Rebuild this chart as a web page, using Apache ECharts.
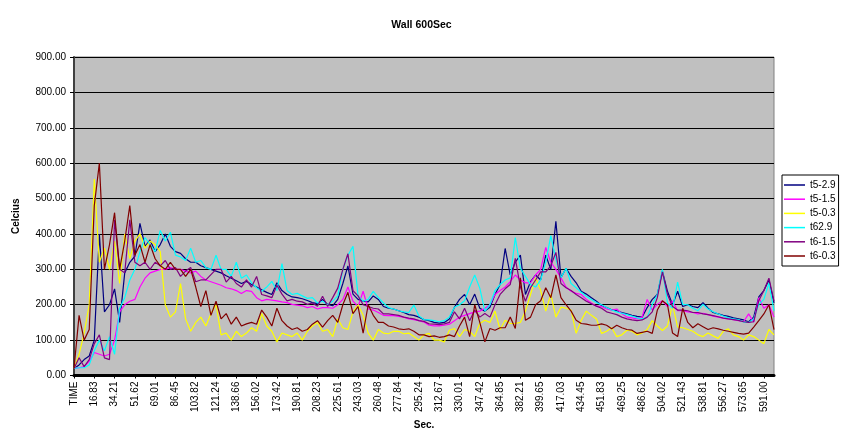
<!DOCTYPE html>
<html><head><meta charset="utf-8">
<script src="https://cdn.jsdelivr.net/npm/echarts@6/dist/echarts.min.js"></script>
<style>html,body{margin:0;padding:0;background:#fff}#c{width:843px;height:435px}</style>
</head><body><div id="c"></div>
<script>
const tickLabels = ['TIME','16.83','34.21','51.62','69.01','86.45','103.82','121.24','138.66','156.02','173.42','190.81','208.23','225.61','243.03','260.48','277.84','295.24','312.67','330.01','347.42','364.85','382.21','399.65','417.03','434.45','451.83','469.25','486.62','504.02','521.43','538.81','556.27','573.65','591.00'];

const seriesNames = ['t5-2.9','t5-1.5','t5-0.3','t62.9','t6-1.5','t6-0.3'];
const seriesColors = ['#000080','#FF00FF','#FFFF00','#00FFFF','#800080','#800000'];

const t5_29 = [20,30,45,55,100,400,180,200,245,150,
290,320,337,430,365,383,350,370,400,365,
350,345,330,320,320,310,305,300,295,290,
282,275,268,260,266,257,250,242,235,229,
262,240,229,222,220,217,212,206,203,215,
201,197,215,260,310,230,215,210,208,225,
215,195,190,188,183,178,172,170,165,158,
155,150,148,150,160,193,215,229,200,230,
190,182,193,229,257,359,284,320,340,229,
265,284,270,340,300,436,276,303,280,262,
238,230,220,210,198,192,186,183,178,174,
170,167,165,192,215,229,295,238,200,238,
195,200,195,192,206,190,178,174,170,167,
163,160,157,152,165,222,240,270,205];

const t5_15 = [20,22,25,40,65,60,55,60,100,180,
200,210,215,250,275,290,295,300,300,305,
300,300,295,290,295,280,270,265,260,255,
248,245,240,232,240,238,220,211,215,213,
211,208,206,201,199,197,192,195,188,192,
192,190,200,215,250,210,195,238,188,185,
178,170,169,169,167,165,160,158,155,151,
142,140,140,142,145,155,165,170,175,180,
182,190,200,229,240,250,265,284,270,262,
262,284,300,362,320,300,276,250,238,232,
229,215,205,196,195,188,185,188,175,165,
163,160,165,215,185,201,211,195,210,183,
183,180,178,174,176,172,168,165,162,160,
158,155,152,174,151,220,190,200,165];

const t5_03 = [20,60,120,200,555,320,360,300,380,260,
400,330,380,400,360,380,370,350,200,165,
180,260,160,125,150,165,140,175,200,115,
120,100,125,110,120,135,125,175,140,125,
95,120,115,110,120,100,125,140,150,125,
130,110,160,135,130,180,200,170,120,100,
130,120,118,125,125,118,120,110,100,115,
119,100,100,95,128,133,110,130,125,110,
147,156,150,182,130,156,147,147,150,182,
229,276,240,182,229,165,193,190,185,119,
156,182,170,160,119,125,135,110,115,128,
125,115,120,130,155,140,127,140,200,137,
135,130,125,115,110,120,112,105,125,132,
115,110,100,115,110,100,90,130,115];

const t6_29 = [20,22,22,30,70,100,70,110,60,190,
220,270,300,350,390,370,350,410,380,405,
340,335,325,360,320,325,305,300,340,300,
300,280,320,275,284,262,248,238,250,266,
240,316,240,229,232,225,218,220,205,210,
200,210,225,300,340,365,225,210,215,238,
220,205,192,188,183,180,178,199,168,158,
157,155,152,155,165,193,200,211,250,284,
247,182,200,240,257,270,276,390,303,280,
257,250,270,320,395,329,276,303,260,248,
235,224,215,206,200,192,185,180,176,172,
168,163,160,165,201,229,300,205,190,264,
201,200,190,183,201,188,180,174,168,163,
160,158,151,150,160,201,215,261,183];

const t6_15 = [20,50,25,45,90,115,50,45,440,300,
290,440,320,310,320,300,320,310,325,300,
305,280,295,305,265,270,270,285,300,300,
264,280,260,250,270,250,280,229,225,220,
255,230,211,215,210,208,201,205,196,224,
195,220,247,300,344,240,225,200,195,190,
188,174,174,172,170,165,162,160,155,153,
146,145,144,146,150,180,160,190,155,185,
165,175,165,200,229,245,257,331,250,210,
248,270,293,293,310,348,260,248,240,229,
220,210,203,196,190,180,176,172,165,160,
157,155,157,165,180,220,293,229,195,185,
185,183,178,178,174,172,169,166,162,160,
158,156,152,150,152,211,240,275,210];

const t6_03 = [20,170,100,130,480,600,300,370,460,300,
380,480,340,370,320,370,330,310,300,320,
300,300,280,300,250,195,240,170,210,160,
175,145,165,140,146,150,145,185,165,140,
190,155,140,130,135,125,130,145,155,137,
155,170,150,200,235,175,195,120,200,170,
150,150,140,137,132,130,132,125,115,115,
110,112,108,110,115,110,140,165,110,200,
150,95,133,128,135,135,165,133,276,156,
165,200,211,248,220,284,220,200,182,156,
147,145,142,142,146,142,132,142,135,130,
128,119,122,125,119,185,211,200,120,110,
190,150,135,146,138,130,135,132,128,125,
122,119,117,120,137,155,174,200,130];

const seriesData = [t5_29, t5_15, t5_03, t6_29, t6_15, t6_03];

// category axis: the labelled times, with three unlabelled steps between them
const categories = [];
tickLabels.forEach((lab, j) => {
  categories.push(lab);
  if (j < tickLabels.length - 1) {
    const a = j === 0 ? 0 : parseFloat(lab), b = parseFloat(tickLabels[j + 1]);
    for (let m = 1; m < 4; m++) categories.push((a + (b - a) * m / 4).toFixed(2));
  }
});
{
  const last = parseFloat(tickLabels[tickLabels.length - 1]);
  const prev = parseFloat(tickLabels[tickLabels.length - 2]);
  for (let m = 1; m <= 2; m++) categories.push((last + (last - prev) * m / 4).toFixed(2));
}

const FONT = 'Liberation Sans, Arial, sans-serif';
const chart = echarts.init(document.getElementById('c'), null, {renderer: 'canvas'});
chart.setOption({
  animation: false,
  backgroundColor: '#fff',
  title: {
    text: 'Wall 600Sec', left: 'center', top: 15,
    textStyle: {fontFamily: FONT, fontSize: 10.5, fontWeight: 'bold', color: '#000'}
  },
  legend: {
    orient: 'vertical', left: 782, top: 175,
    data: seriesNames.map(n => ({name: n, icon: 'rect'})),
    itemWidth: 21, itemHeight: 1.5, itemGap: 2.2,
    padding: [4, 3, 4, 2],
    borderColor: '#000', borderWidth: 1, backgroundColor: '#fff',
    textStyle: {fontFamily: FONT, fontSize: 10, lineHeight: 12, color: '#000'}
  },
  grid: {
    left: 74, right: 69, top: 57, bottom: 52, show: true,
    backgroundColor: '#C0C0C0', borderColor: '#808080', borderWidth: 1
  },
  xAxis: {
    type: 'category', data: categories, boundaryGap: false,
    name: 'Sec.', nameLocation: 'middle', nameGap: 43,
    nameTextStyle: {fontFamily: FONT, fontSize: 10, fontWeight: 'bold', color: '#000'},
    axisLine: {lineStyle: {color: '#000', width: 3}},
    axisTick: {interval: 3, length: 3, lineStyle: {color: '#000'}},
    axisLabel: {interval: 3, rotate: 90, fontFamily: FONT, fontSize: 10, color: '#000', margin: 6},
    splitLine: {show: false}
  },
  yAxis: {
    type: 'value', min: 0, max: 900, interval: 100,
    name: 'Celcius', nameLocation: 'middle', nameGap: 53, nameRotate: 90,
    nameTextStyle: {fontFamily: FONT, fontSize: 10, fontWeight: 'bold', color: '#000'},
    axisLine: {show: true, lineStyle: {color: '#404040', width: 2}},
    axisTick: {show: true, length: 4, lineStyle: {color: '#000'}},
    axisLabel: {formatter: v => v.toFixed(2), fontFamily: FONT, fontSize: 10, color: '#000', margin: 8},
    splitLine: {lineStyle: {color: '#000', width: 1}}
  },
  series: seriesNames.map((n, k) => ({
    name: n, type: 'line', data: seriesData[k], symbol: 'none', showSymbol: false,
    color: seriesColors[k],
    lineStyle: {color: seriesColors[k], width: 1.2}
  }))
});
</script></body></html>
